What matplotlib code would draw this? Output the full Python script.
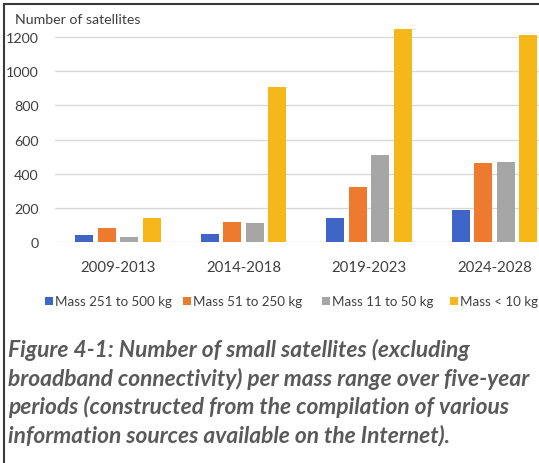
import matplotlib
matplotlib.use("Agg")
import matplotlib.pyplot as plt
import numpy as np
from matplotlib.lines import Line2D
from matplotlib.patches import Rectangle

# Data
periods = ["2009-2013", "2014-2018", "2019-2023", "2024-2028"]
series_names = ["Mass 251 to 500 kg", "Mass 51 to 250 kg", "Mass 11 to 50 kg", "Mass < 10 kg"]
mass_251_500 = [42, 47, 140, 187]
mass_51_250 = [82, 117, 320, 465]
mass_11_50 = [29, 111, 509, 470]
mass_under_10 = [140, 907, 1247, 1212]
yticks = [0, 200, 400, 600, 800, 1000, 1200]

colors = ["#3F66C6", "#EE7A30", "#A6A6A6", "#F5B71A"]
caption = ("Figure 4-1: Number of small satellites (excluding\n"
           "broadband connectivity) per mass range over five-year\n"
           "periods (constructed from the compilation of various\n"
           "information sources available on the Internet).")

W, H = 539, 464
fig = plt.figure(figsize=(W / 100, H / 100), dpi=100)
fig.patch.set_facecolor("white")
plt.rcParams["font.family"] = ["Lato", "DejaVu Sans"]

# axes spans x=55..557 px (extends past the right edge), y baseline at 243 px
ax_left, ax_right = 55.3, 557.3
y0_px, ytop_px = 243, 21
ax = fig.add_axes([ax_left / W, (H - y0_px) / H,
                   (ax_right - ax_left) / W, (y0_px - ytop_px) / H])
ax.set_facecolor("none")

x = np.arange(len(periods))
step = 0.179
width = 0.143
all_series = [mass_251_500, mass_51_250, mass_11_50, mass_under_10]
for i, (vals, c) in enumerate(zip(all_series, colors)):
    ax.bar(x + (i - 1.5) * step, vals, width=width, color=c, zorder=3)

ax.set_xlim(-0.5, 3.5)
ax.set_ylim(0, 1200 * (y0_px - ytop_px) / (243 - 38))
ax.set_yticks(yticks)
ax.set_yticklabels([str(t) for t in yticks], fontsize=10.3, color="#404040")
ax.set_xticks(x)
ax.set_xticklabels(periods, fontsize=10.8, color="#404040")
ax.tick_params(axis="y", length=0, pad=12)
ax.tick_params(axis="x", length=0, pad=13)
ax.grid(axis="y", color="#D9D9D9", linewidth=1.0, zorder=0)
for s in ax.spines.values():
    s.set_visible(False)

fig.text(15 / W, 1 - 20 / H, "Number of satellites", fontsize=10.2,
         color="#404040", ha="left", va="center")

# legend row: square marker followed by its label
legend_x = [45, 183, 322, 450]
legend_y = 302
sq = 7.5
for lx, c, name in zip(legend_x, colors, series_names):
    fig.add_artist(Rectangle((lx / W, 1 - (legend_y + sq / 2) / H), sq / W, sq / H,
                             transform=fig.transFigure, facecolor=c,
                             edgecolor="none"))
    fig.text((lx + sq + 2.5) / W, 1 - legend_y / H, name, fontsize=9.6,
             color="#404040", ha="left", va="center")

fig.text(8 / W, 1 - 339 / H, caption, fontsize=16.4, fontweight="bold",
         fontstyle="italic", color="#5A5A5A", ha="left", va="top",
         linespacing=1.36)

# frame lines along the top and left edges
fig.add_artist(Line2D([3.5 / W, 1], [1 - 5 / H, 1 - 5 / H],
                      transform=fig.transFigure, color="#3A3A3A", linewidth=1.5))
fig.add_artist(Line2D([3.5 / W, 3.5 / W], [0, 1 - 5 / H],
                      transform=fig.transFigure, color="#3A3A3A", linewidth=1.5))

fig.savefig("out.png", dpi=100)
